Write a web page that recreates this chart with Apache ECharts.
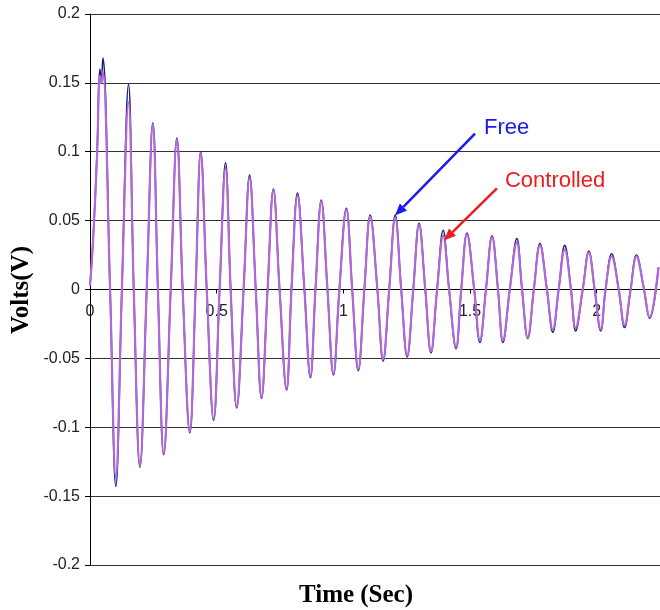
<!DOCTYPE html>
<html>
<head>
<meta charset="utf-8">
<script src="https://cdn.jsdelivr.net/npm/echarts@6/dist/echarts.min.js"></script>
<style>
html,body{margin:0;padding:0;background:#fff;}
#chart{width:660px;height:610px;}
</style>
</head>
<body>
<div id="chart"></div>
<script>
// Time (s) sample points
const timeSec = [0, 0.012, 0.028, 0.039, 0.045, 0.051, 0.079,
  0.102, 0.126, 0.152, 0.173, 0.197, 0.224, 0.248, 0.268, 0.291, 0.319,
  0.343, 0.366, 0.394, 0.417, 0.437, 0.461, 0.488, 0.512, 0.535, 0.555,
  0.579, 0.606, 0.630, 0.654, 0.677, 0.701, 0.724, 0.748, 0.776, 0.795,
  0.819, 0.846, 0.870, 0.890, 0.913, 0.937, 0.961, 0.984, 1.012, 1.035,
  1.059, 1.083, 1.106, 1.134, 1.157, 1.181, 1.205, 1.228, 1.252, 1.276,
  1.299, 1.323, 1.346, 1.370, 1.394, 1.417, 1.445, 1.465, 1.488, 1.516,
  1.539, 1.563, 1.587, 1.610, 1.630, 1.657, 1.685, 1.705, 1.728, 1.752,
  1.776, 1.803, 1.827, 1.850, 1.874, 1.898, 1.917, 1.945, 1.969, 1.992,
  2.016, 2.035, 2.059, 2.087, 2.110, 2.134, 2.157, 2.185, 2.209, 2.244];

// "Free" response (V)
const freeVolts = [0.003, 0.035, 0.100, 0.160, 0.152, 0.168, 0.002,
  -0.143, 0.001, 0.149, -0.002, -0.129, 0.001, 0.121, 0.000, -0.120, 0.002,
  0.110, -0.001, -0.104, 0.001, 0.100, -0.001, -0.095, 0.002, 0.092, 0.001,
  -0.086, -0.001, 0.083, 0.001, -0.079, 0.000, 0.073, 0.001, -0.073, -0.001,
  0.070, 0.001, -0.064, 0.000, 0.065, 0.001, -0.062, -0.001, 0.059, 0.000,
  -0.059, 0.000, 0.054, 0.001, -0.052, 0.000, 0.054, 0.001, -0.049, 0.000,
  0.048, 0.001, -0.046, 0.000, 0.043, 0.001, -0.043, -0.001, 0.041, 0.001,
  -0.0385, 0.000, 0.039, 0.001, -0.0385, 0.000, 0.037, 0.001, -0.0356, 0.000,
  0.0334, 0.001, -0.031, 0.000, 0.032, 0.001, -0.030, 0.000, 0.028, 0.000,
  -0.030, 0.000, 0.026, 0.000, -0.0276, 0.000, 0.025, 0.002, -0.021, 0.016];

// "Controlled" response (V)
const controlledVolts = [0.003, 0.035, 0.098, 0.155, 0.150, 0.158, 0.002,
  -0.136, 0.001, 0.136, -0.002, -0.128, 0.001, 0.120, 0.000, -0.119, 0.002,
  0.109, -0.001, -0.103, 0.001, 0.099, -0.001, -0.094, 0.002, 0.088, 0.001,
  -0.085, -0.001, 0.081, 0.001, -0.078, 0.000, 0.072, 0.001, -0.072, -0.001,
  0.068, 0.001, -0.063, 0.000, 0.064, 0.001, -0.061, -0.001, 0.058, 0.000,
  -0.058, 0.000, 0.053, 0.001, -0.051, 0.000, 0.052, 0.001, -0.048, 0.000,
  0.047, 0.001, -0.045, 0.000, 0.039, 0.001, -0.042, -0.001, 0.040, 0.001,
  -0.037, 0.000, 0.038, 0.001, -0.037, 0.000, 0.034, 0.001, -0.035, 0.000,
  0.032, 0.001, -0.029, 0.000, 0.029, 0.001, -0.028, 0.000, 0.027, 0.000,
  -0.029, 0.000, 0.024, 0.000, -0.026, 0.000, 0.024, 0.002, -0.020, 0.016];

// Axis ticks
const xTicks = {min: 0, max: 2.25, interval: 0.5};
const yTicks = {min: -0.2, max: 0.2, interval: 0.05};

// Annotation anchor points (data coords of arrow tips)
const annotLabels = ['Free', 'Controlled'];
const annotTime = [1.204, 1.397];
const annotVolt = [0.0537, 0.0356];

const GRID = {left: 90, right: 0, top: 14, bottom: 45};
const chart = echarts.init(document.getElementById('chart'), null, {renderer: 'canvas'});

const pair = (vals) => timeSec.map((t, i) => [t, vals[i]]);

// place the x-axis on the zero line: offset from grid bottom
const plotH = 610 - GRID.top - GRID.bottom;
const zeroOffset = -plotH * (0 - yTicks.min) / (yTicks.max - yTicks.min);

chart.setOption({
  animation: false,
  backgroundColor: '#ffffff',
  grid: {left: GRID.left, right: GRID.right, top: GRID.top, bottom: GRID.bottom, containLabel: false, outerBoundsMode: 'none'},
  xAxis: {
    type: 'value',
    min: xTicks.min, max: xTicks.max, interval: xTicks.interval,
    position: 'bottom', offset: zeroOffset,
    axisLine: {onZero: false, lineStyle: {color: '#000', width: 1}},
    axisTick: {show: true, length: 4, lineStyle: {color: '#000'}},
    axisLabel: {
      margin: 14, fontSize: 16, color: '#222',
      fontFamily: 'Liberation Sans, Arial, sans-serif',
      showMaxLabel: false,
      formatter: (v) => (Math.abs(v / 0.5 - Math.round(v / 0.5)) < 1e-6 ? String(+v.toFixed(2)) : '')
    },
    splitLine: {show: false}
  },
  yAxis: {
    type: 'value',
    min: yTicks.min, max: yTicks.max, interval: yTicks.interval,
    axisLine: {show: true, onZero: false, lineStyle: {color: '#000', width: 1}},
    axisTick: {show: true, length: 5, lineStyle: {color: '#000'}},
    axisLabel: {margin: 10, fontSize: 16, color: '#222', fontFamily: 'Liberation Sans, Arial, sans-serif',
      formatter: (v) => String(+v.toFixed(2))},
    splitLine: {show: true, lineStyle: {color: '#333', width: 1}}
  },
  series: [
    {
      name: 'Free', type: 'line', data: pair(freeVolts),
      showSymbol: false, smooth: 0.4,
      lineStyle: {color: '#1c1c78', width: 1.6}, z: 2
    },
    {
      name: 'Controlled', type: 'line', data: pair(controlledVolts),
      showSymbol: false, smooth: 0.4,
      lineStyle: {color: '#b06ad8', width: 2.2}, z: 3
    }
  ]
});

// Annotations with arrows anchored to data points
const annotColors = ['#1a1aee', '#ee1c1c'];
const annotOffsets = [[80, -82], [53, -52]];
const textOffsets = [[9, -88], [8, -60]];
const elements = [];
annotLabels.forEach((lab, i) => {
  const tip = chart.convertToPixel({gridIndex: 0}, [annotTime[i], annotVolt[i]]);
  const start = [tip[0] + annotOffsets[i][0], tip[1] + annotOffsets[i][1]];
  const dx = tip[0] - start[0], dy = tip[1] - start[1];
  const len = Math.sqrt(dx * dx + dy * dy);
  const ux = dx / len, uy = dy / len;
  const headLen = 12, headW = 5;
  const base = [tip[0] - ux * headLen, tip[1] - uy * headLen];
  elements.push({
    type: 'line', z: 10,
    shape: {x1: start[0], y1: start[1], x2: base[0], y2: base[1]},
    style: {stroke: annotColors[i], lineWidth: 2.5}
  });
  elements.push({
    type: 'polygon', z: 10,
    shape: {points: [tip, [base[0] - uy * headW, base[1] + ux * headW], [base[0] + uy * headW, base[1] - ux * headW]]},
    style: {fill: annotColors[i]}
  });
  elements.push({
    type: 'text', z: 10,
    x: start[0] + textOffsets[i][0],
    y: tip[1] + textOffsets[i][1],
    style: {text: lab, fill: annotColors[i], font: '22px "Liberation Sans", Arial, sans-serif', textVerticalAlign: 'middle'}
  });
});
elements.push({
  type: 'text', z: 10, x: 356, y: 596,
  style: {text: 'Time (Sec)', fill: '#000', font: 'bold 25px "Liberation Serif", "Times New Roman", serif',
    textAlign: 'center', textVerticalAlign: 'middle'}
});
elements.push({
  type: 'text', z: 10, x: 22, y: 290, rotation: Math.PI / 2,
  style: {text: 'Volts(V)', fill: '#000', font: 'bold 25px "Liberation Serif", "Times New Roman", serif',
    textAlign: 'center', textVerticalAlign: 'middle'}
});
chart.setOption({graphic: {elements: elements}});
</script>
</body>
</html>
